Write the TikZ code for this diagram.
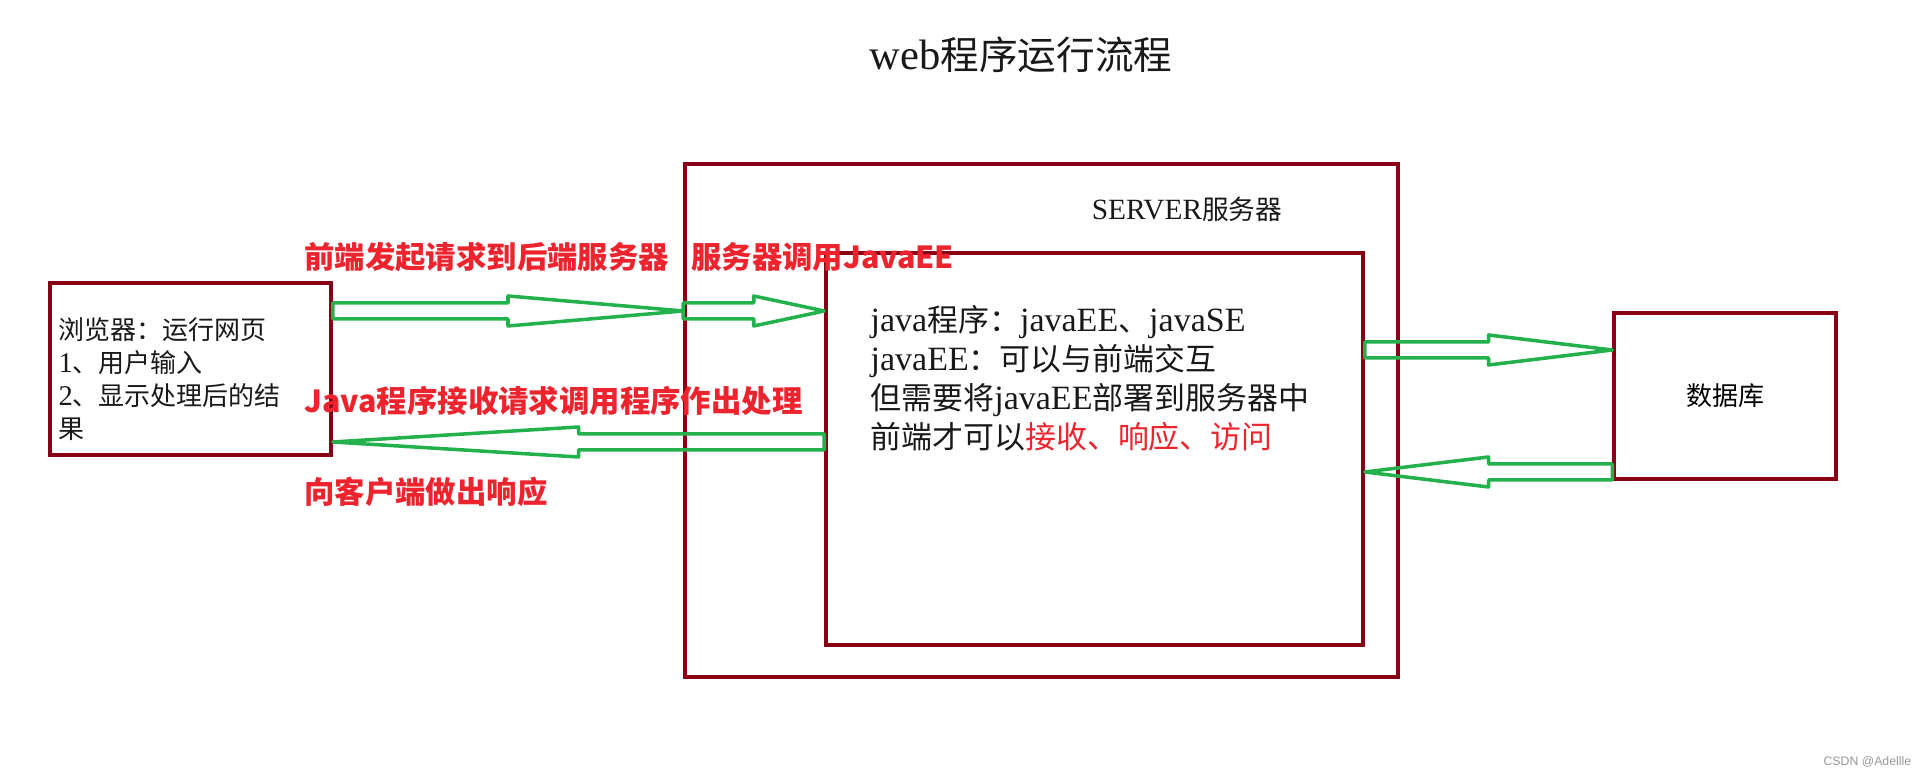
\documentclass[tikz,border=0pt]{standalone}
\usepackage{fontspec}
\setmainfont[Scale=1.1]{Liberation Serif}
\setsansfont{Liberation Sans}
\newfontfamily\cjk{Noto Sans CJK SC}
\usetikzlibrary{
    positioning,
    calc
}
\definecolor{boxred}{RGB}{136,0,21}
\definecolor{paintgreen}{RGB}{34,177,76}
\definecolor{notered}{RGB}{237,36,46}
\definecolor{markgray}{RGB}{150,150,150}

\newcommand{\zh}[1]{{\cjk #1}}
\newcommand{\titlefont}{\fontsize{22}{26}\selectfont}
\newcommand{\bodyfont}{\fontsize{17.6}{22.2}\selectfont}
\newcommand{\serverfont}{\fontsize{15.2}{19}\selectfont}
\newcommand{\smallfont}{\fontsize{14.8}{18.8}\selectfont}
\newcommand{\notefont}{\cjk\bfseries\fontsize{17.3}{21}\selectfont}

% hollow block arrow from #1 to #2, head takes the second half
\newcommand{\hollowarrow}[2]{%
    \draw[flowarrow] ($(#1)+(0,0.16)$) -- ($(#1)!0.5!(#2)+(0,0.16)$)
        -- ($(#1)!0.5!(#2)+(0,0.3)$) -- (#2)
        -- ($(#1)!0.5!(#2)+(0,-0.3)$) -- ($(#1)!0.5!(#2)+(0,-0.16)$)
        -- ($(#1)+(0,-0.16)$) -- cycle;}

\tikzset{
    framebox/.style = {draw=boxred, line width=2pt, inner sep=0pt},
    plaintext/.style = {inner sep=0pt, align=left, text=black!90},
    notelabel/.style = {inner sep=0pt, anchor=west, text=notered, font=\notefont},
    flowarrow/.style = {draw=paintgreen, line width=2pt, line join=round},
}

\begin{document}
\begin{tikzpicture}
\useasboundingbox (0,0) rectangle (38.48,15.6);

\node[plaintext, font=\titlefont] (title) at (20.42,14.5) {web\zh{程序运行流程}};

% boxes
\node[framebox, minimum width=5.62cm, minimum height=3.44cm] (browser) at (3.81,8.22) {};
\node[framebox, minimum width=14.26cm, minimum height=10.26cm] (server) at (20.83,7.19) {};
\node[framebox, minimum width=10.74cm, minimum height=7.84cm] (app) at (21.89,6.62) {};
\node[framebox, minimum width=4.44cm, minimum height=3.32cm, font=\smallfont] (db) at (34.5,7.68) {\zh{数据库}};

% texts in the boxes
\node[plaintext, font=\smallfont, anchor=west] (browsertext) at ([shift={(0.2,-0.2)}]browser.west)
    {\zh{浏览器：运行网页}\\1\zh{、用户输入}\\2\zh{、显示处理后的结}\\\zh{果}};
\node[plaintext, font=\serverfont] (serverlabel) at ([shift={(2.91,-0.94)}]server.north) {SERVER\zh{服务器}};
\node[plaintext, font=\bodyfont, anchor=west] (apptext) at ([shift={(0.92,1.41)}]app.west)
    {java\zh{程序：}javaEE\zh{、}javaSE\\
     javaEE\zh{：可以与前端交互}\\
     \zh{但需要将}javaEE\zh{部署到服务器中}\\
     \zh{前端才可以}\textcolor{notered}{\zh{接收、响应、访问}}};

% red notes
\node[notelabel] (reqlabel) at (6.08,10.46) {前端发起请求到后端服务器};
\node[notelabel] (calllabel) at (13.82,10.46) {服务器调用JavaEE};
\node[notelabel] (handlelabel) at (6.08,7.58) {Java程序接收请求调用程序作出处理};
\node[notelabel] (resplabel) at (6.08,5.76) {向客户端做出响应};

% arrows
\coordinate (req) at (0,9.38);
\coordinate (resp) at (0,6.76);
\coordinate (query) at (0,8.6);
\coordinate (result) at (0,6.16);

\hollowarrow{browser.east |- req}{server.west |- req}
\hollowarrow{server.west |- req}{app.west |- req}
\hollowarrow{app.west |- resp}{browser.east |- resp}
\hollowarrow{app.east |- query}{db.west |- query}
\hollowarrow{db.west |- result}{app.east |- result}

\node[anchor=east, text=markgray, font=\sffamily\fontsize{7}{8}\selectfont] (mark) at (38.36,0.36) {CSDN @Adellle};
\end{tikzpicture}
\end{document}
